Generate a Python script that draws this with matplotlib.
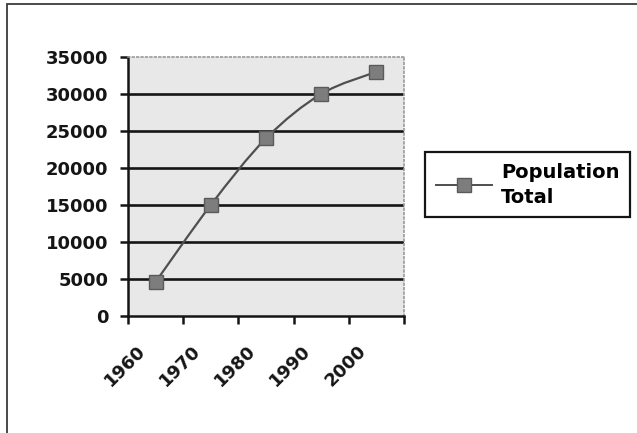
"""Population total by decade, drawn as an Excel-style smoothed line chart."""

import matplotlib

matplotlib.use("Agg")
import matplotlib.pyplot as plt
import matplotlib.transforms as mtransforms
from matplotlib.patches import PathPatch, Rectangle
from matplotlib.path import Path
from matplotlib.lines import Line2D

decades = ["1960", "1970", "1980", "1990", "2000"]
population = [4600, 15000, 24000, 30000, 33000]
y_ticks = [0, 5000, 10000, 15000, 20000, 25000, 30000, 35000]

LINE_COLOR = "#4f4f4f"
MARKER_FACE = "#7d7d7d"
MARKER_EDGE = "#5a5a5a"
PLOT_BG = "#e8e8e8"
INK = "#151515"

plt.rcParams["font.family"] = ["DejaVu Sans"]
plt.rcParams["font.weight"] = "bold"


def smooth_path(xs, ys):
    """Catmull-Rom style cubic Bezier through the points (Excel smoothing)."""
    verts = [(xs[0], ys[0])]
    codes = [Path.MOVETO]
    n = len(xs)
    for i in range(n - 1):
        x0, y0 = (xs[i - 1], ys[i - 1]) if i > 0 else (xs[i], ys[i])
        x1, y1 = xs[i], ys[i]
        x2, y2 = xs[i + 1], ys[i + 1]
        x3, y3 = (xs[i + 2], ys[i + 2]) if i + 2 < n else (x2, y2)
        c1 = (x1 + (x2 - x0) / 6.0, y1 + (y2 - y0) / 6.0)
        c2 = (x2 - (x3 - x1) / 6.0, y2 - (y3 - y1) / 6.0)
        verts += [c1, c2, (x2, y2)]
        codes += [Path.CURVE4] * 3
    return Path(verts, codes)


fig = plt.figure(figsize=(6.37, 4.33), dpi=100)

# outer chart frame
fig.patches.append(Rectangle((7 / 637, -0.02), 1.2, 1 - 4 / 433 + 0.02,
                             transform=fig.transFigure, fill=False,
                             edgecolor="#3a3a3a", linewidth=1.3))

ax = fig.add_axes([128 / 637, 1 - 316 / 433, 276 / 637, 259 / 433])
ax.set_facecolor(PLOT_BG)

xs = list(range(len(decades)))
ax.add_patch(PathPatch(smooth_path(xs, population), facecolor="none",
                       edgecolor=LINE_COLOR, linewidth=1.6, zorder=3))
ax.plot(xs, population, linestyle="none", marker="s", markersize=9.5,
        markerfacecolor=MARKER_FACE, markeredgecolor=MARKER_EDGE,
        markeredgewidth=1.0, zorder=4, clip_on=False)

ax.set_xlim(-0.5, len(decades) - 0.5)
ax.set_ylim(0, 35000)

# horizontal gridlines
for v in y_ticks[1:-1]:
    ax.axhline(v, color=INK, linewidth=1.9, zorder=2)

ax.set_yticks(y_ticks)
ax.set_yticklabels([str(v) for v in y_ticks])
ax.tick_params(axis="y", direction="out", length=6, width=1.8, pad=8,
               labelsize=13, colors=INK)

# category boundaries carry the tick marks, centres carry the labels
ax.set_xticks([i - 0.5 for i in range(len(decades) + 1)])
ax.set_xticklabels([])
ax.set_xticks(xs, minor=True)
ax.set_xticklabels(decades, minor=True, rotation=45, ha="right",
                   va="center", rotation_mode="anchor")
ax.tick_params(axis="x", which="major", direction="out", length=6,
               width=1.8, colors=INK)
ax.tick_params(axis="x", which="minor", length=0, pad=23, labelsize=13,
               colors=INK)
shift = mtransforms.ScaledTranslation(-13 / 100, 0, fig.dpi_scale_trans)
for lbl in ax.get_xticklabels(minor=True):
    lbl.set_transform(lbl.get_transform() + shift)

for side in ("top", "right"):
    ax.spines[side].set_color("#9a9a9a")
    ax.spines[side].set_linestyle(":")
    ax.spines[side].set_linewidth(1.2)
for side in ("left", "bottom"):
    ax.spines[side].set_color(INK)
    ax.spines[side].set_linewidth(1.8)

handle = Line2D([], [], color=LINE_COLOR, linewidth=1.4, marker="s",
                markersize=9.5, markerfacecolor=MARKER_FACE,
                markeredgecolor=MARKER_EDGE)
leg = fig.legend([handle], ["Population\nTotal"], loc="upper left",
                 bbox_to_anchor=(425 / 637, 1 - 152 / 433), borderaxespad=0,
                 fancybox=False, edgecolor=INK, framealpha=1,
                 fontsize=14, handlelength=2.9, handletextpad=0.45,
                 borderpad=0.55)
leg.get_frame().set_linewidth(1.6)
for t in leg.get_texts():
    t.set_fontweight("bold")
    t.set_linespacing(1.4)

fig.savefig("out.png", dpi=100)
